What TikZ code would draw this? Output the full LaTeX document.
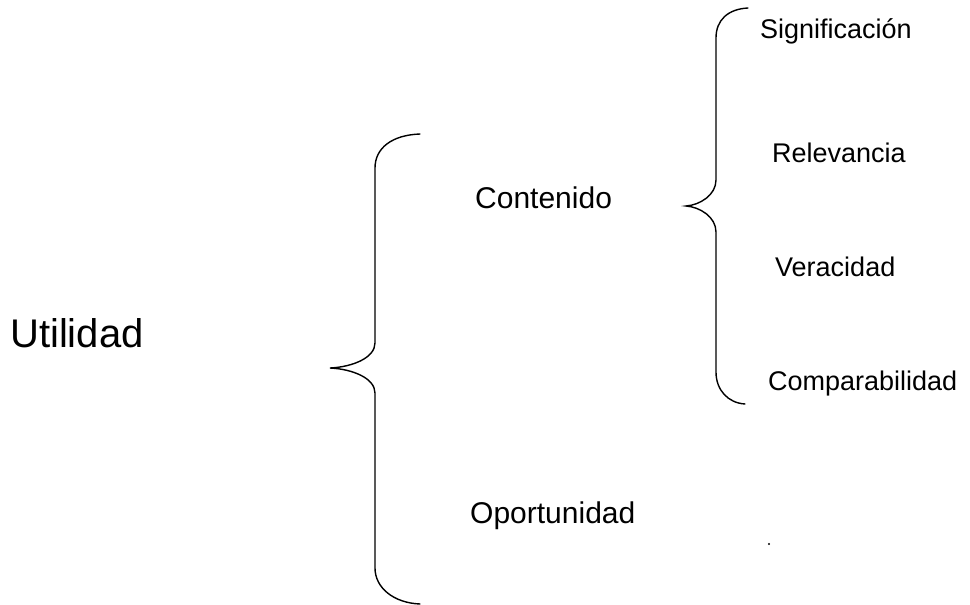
\documentclass[tikz,border=0pt]{standalone}
\usepackage{fontspec}
\setmainfont{Liberation Sans}
\usetikzlibrary{positioning}

\begin{document}
\begin{tikzpicture}[
    x=1pt, y=-1pt,
    label/.style={anchor=base west, inner sep=0pt, font=\fontsize{27}{32}\selectfont},
    midlabel/.style={label, font=\fontsize{30}{36}\selectfont},
    toplabel/.style={label, font=\fontsize{40}{48}\selectfont},
    brace/.style={line width=1.4pt, line cap=round},
]
\useasboundingbox (0,0) rectangle (970,605);

% Main term
\node[toplabel] (util) at (10,347) {Utilidad};

% Second level
\node[midlabel] (cont) at (475,208) {Contenido};
\node[midlabel] (oport) at (470,523) {Oportunidad};

% Third level
\foreach \name/\x/\y/\txt in {sig/760/38/Significación, rel/772/162/Relevancia,
                               ver/775/276/Veracidad, comp/768/390/Comparabilidad}{
    \node[label] (\name) at (\x,\y) {\txt};
}

% Big brace
\coordinate (bigtop) at (420,134);
\coordinate (bigtip) at (330,368);
\coordinate (bigbot) at (420,604);
\draw[brace] (bigtop) .. controls (392,135) and (375,148) .. (375,168)
    -- (375,343) .. controls (375,358) and (352,367) .. (bigtip)
    .. controls (352,369) and (375,378) .. (375,393)
    -- (375,568) .. controls (375,588) and (394,603) .. (bigbot);

% Small brace
\coordinate (smalltop) at (748,8);
\coordinate (smalltip) at (686,206);
\coordinate (smallbot) at (745,404);
\draw[brace] (smalltop) .. controls (728,9) and (716,20) .. (716,38)
    -- (716,180) .. controls (716,195) and (700,205) .. (smalltip)
    .. controls (700,207) and (716,217) .. (716,232)
    -- (716,372) .. controls (716,390) and (728,403) .. (smallbot);

% Stray mark
\fill (769,544) circle (1.2);

\end{tikzpicture}
\end{document}
